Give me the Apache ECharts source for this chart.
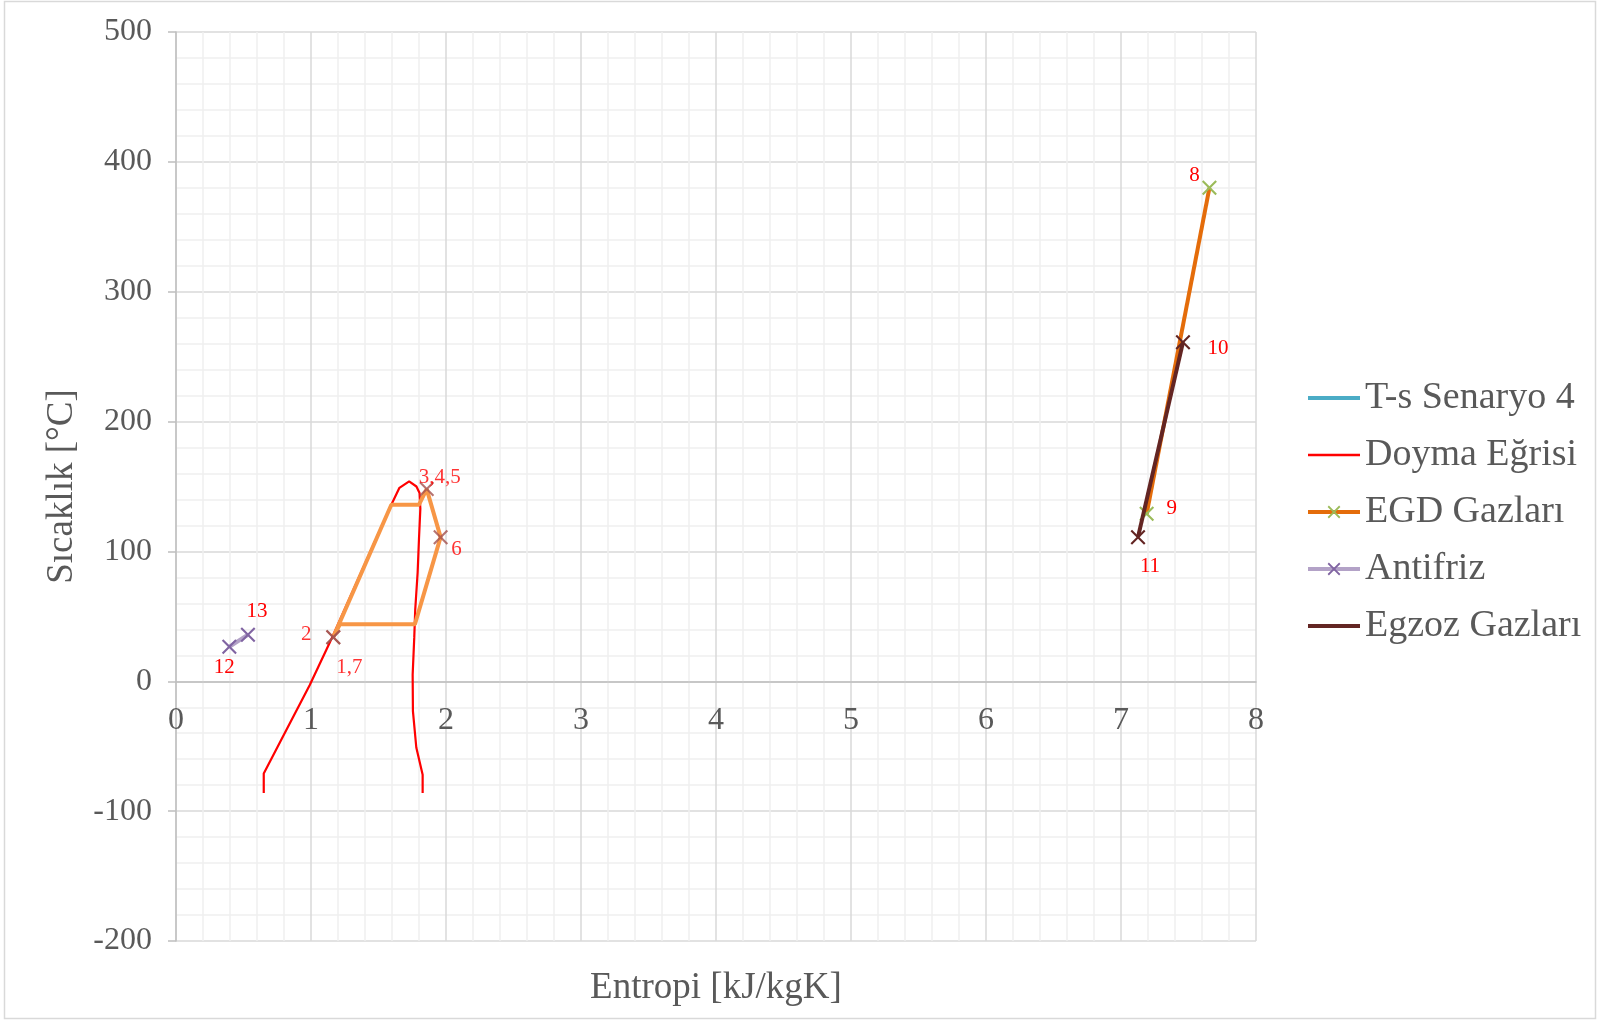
<!DOCTYPE html>
<html>
<head>
<meta charset="utf-8">
<style>
  html, body { margin: 0; padding: 0; background: #ffffff; }
  #chart { width: 1598px; height: 1021px; }
</style>
<script src="https://cdn.jsdelivr.net/npm/echarts@6/dist/echarts.min.js"></script>
</head>
<body>
<div id="chart"></div>
<script>
// ---------- DATA ----------
const xTicks = [0, 1, 2, 3, 4, 5, 6, 7, 8];
const yTicks = [-200, -100, 0, 100, 200, 300, 400, 500];

// T-s Senaryo 4 (cycle path)
const cycleS = [1.165, 1.595, 1.80, 1.857, 1.96, 1.77, 1.215, 1.165];
const cycleT = [34, 136, 136, 148, 111, 44, 44, 34];

// State points of the cycle
const stateS = [1.165, 1.165, 1.857, 1.96];
const stateT = [34, 34, 148, 111];
const stateLabels = ['2', '1,7', '3,4,5', '6'];

// Doyma Eğrisi (saturation curve)
const satS = [0.65, 0.65, 0.80, 0.99, 1.14, 1.595, 1.655, 1.727, 1.781, 1.804, 1.81, 1.80, 1.79, 1.772, 1.765, 1.753, 1.755, 1.78, 1.827, 1.827];
const satT = [-86, -71, -41, -3, 30, 136, 149, 154, 150, 145, 133, 110, 84, 55, 34, 5, -23, -51, -72, -86];

// EGD Gazları
const egdS = [7.655, 7.19];
const egdT = [380, 129];
const egdLabels = ['8', '9'];

// Antifriz
const antS = [0.395, 0.533];
const antT = [26.6, 35.8];
const antLabels = ['12', '13'];

// Egzoz Gazları
const exhS = [7.459, 7.126];
const exhT = [261, 111];
const exhLabels = ['10', '11'];

// ---------- STYLE / LAYOUT ----------
const FONT = '"Liberation Serif", "Times New Roman", serif';
const TXT = '#595959';
const CROSS = 'path://M0,1 L1,0 L5,4 L9,0 L10,1 L6,5 L10,9 L9,10 L5,6 L1,10 L0,9 L4,5 Z';
const CLEAR = 'rgba(0,0,0,0)';

const GRID = { left: 176, right: 342, top: 32, bottom: 80 };
const CH = 1021;
const yMin = yTicks[0], yMax = yTicks[yTicks.length - 1];
const gridH = CH - GRID.top - GRID.bottom;
// x-axis crosses the y-axis at T = 0
const zeroShift = gridH * (0 - yMin) / (yMax - yMin);

// label offsets (px) keyed by label text
const labelOffset = {
  '2': [-27, -3], '1,7': [16, 30], '3,4,5': [13, -12], '6': [16, 12],
  '12': [-5, 21], '13': [9, -23], '8': [-15, -12], '9': [25, -5],
  '10': [35, 6], '11': [12, 29]
};

function zipPts(xs, ys, labels) {
  return xs.map((x, i) => {
    const item = { value: [x, ys[i]] };
    if (labels) {
      item.name = labels[i];
      item.label = {
        show: true, position: 'inside', formatter: labels[i],
        offset: labelOffset[labels[i]], color: '#FF0000',
        fontFamily: FONT, fontSize: 21
      };
    }
    return item;
  });
}

const chart = echarts.init(document.getElementById('chart'), null, { renderer: 'canvas' });

const option = {
  animation: false,
  backgroundColor: '#ffffff',
  textStyle: { fontFamily: FONT },
  graphic: [{
    type: 'rect', silent: true, z: -10,
    shape: { x: 4.5, y: 1.5, width: 1591, height: 1017 },
    style: { fill: 'none', stroke: '#D9D9D9', lineWidth: 1.5 }
  }],
  grid: { left: GRID.left, right: GRID.right, top: GRID.top, bottom: GRID.bottom, containLabel: false, outerBoundsMode: 'none' },
  legend: {
    orient: 'vertical',
    left: 1306, top: 378, padding: 0,
    itemWidth: 52, itemHeight: 16, itemGap: 17,
    textStyle: { fontFamily: FONT, fontSize: 38, color: TXT, lineHeight: 40, padding: [0, 0, 0, 0] },
    data: [
      { name: 'T-s Senaryo 4', itemStyle: { color: CLEAR, borderColor: CLEAR }, lineStyle: { color: '#4BACC6', width: 4 } },
      { name: 'Doyma Eğrisi', itemStyle: { color: CLEAR, borderColor: CLEAR }, lineStyle: { color: '#FF0000', width: 2.5 } },
      { name: 'EGD Gazları', lineStyle: { color: '#E46C0A', width: 4 } },
      { name: 'Antifriz', lineStyle: { color: '#B3A2C7', width: 4 } },
      { name: 'Egzoz Gazları', itemStyle: { color: CLEAR, borderColor: CLEAR }, lineStyle: { color: '#632523', width: 4 } }
    ]
  },
  xAxis: {
    type: 'value', min: xTicks[0], max: xTicks[xTicks.length - 1], interval: 1,
    position: 'bottom', offset: -zeroShift,
    name: 'Entropi [kJ/kgK]', nameLocation: 'middle', nameGap: 288,
    nameTextStyle: { fontFamily: FONT, fontSize: 37, color: TXT },
    axisLine: { show: true, onZero: false, lineStyle: { color: '#BFBFBF', width: 1.5 } },
    axisTick: { show: false },
    axisLabel: { fontFamily: FONT, fontSize: 32, color: TXT, margin: 23 },
    splitLine: { show: true, lineStyle: { color: '#D9D9D9', width: 1.5 } },
    minorTick: { show: false, splitNumber: 5 },
    minorSplitLine: { show: true, lineStyle: { color: '#F0F0F0', width: 1.5 } }
  },
  yAxis: {
    type: 'value', min: yMin, max: yMax, interval: 100,
    name: 'Sıcaklık [°C]', nameLocation: 'middle', nameGap: 95, nameRotate: 90,
    nameTextStyle: { fontFamily: FONT, fontSize: 37, color: TXT },
    axisLine: { show: true, onZero: false, lineStyle: { color: '#BFBFBF', width: 1.5 } },
    axisTick: { show: true, inside: false, length: 8, lineStyle: { color: '#BFBFBF', width: 1.5 } },
    axisLabel: { fontFamily: FONT, fontSize: 32, color: TXT, margin: 24 },
    splitLine: { show: true, lineStyle: { color: '#D9D9D9', width: 1.5 } },
    minorTick: { show: false, splitNumber: 5 },
    minorSplitLine: { show: true, lineStyle: { color: '#F0F0F0', width: 1.5 } }
  },
  series: [
    {
      name: 'Doyma Eğrisi', type: 'line', z: 2,
      data: zipPts(satS, satT),
      symbol: 'none', smooth: false,
      lineStyle: { color: '#FF0000', width: 2.2 },
      itemStyle: { color: '#FF0000' }
    },
    {
      name: 'T-s Senaryo 4', type: 'line', z: 3,
      data: zipPts(cycleS, cycleT),
      symbol: 'none',
      lineStyle: { color: '#F79646', width: 4 },
      itemStyle: { color: '#F79646' }
    },
    {
      name: 'Durum Noktaları', type: 'scatter', z: 6,
      data: zipPts(stateS, stateT, stateLabels),
      symbol: CROSS, symbolSize: 15,
      itemStyle: { color: '#A5514E' }
    },
    {
      name: 'EGD Gazları', type: 'line', z: 4,
      data: zipPts(egdS, egdT, egdLabels),
      symbol: CROSS, symbolSize: 15, showSymbol: true,
      lineStyle: { color: '#E46C0A', width: 4 },
      itemStyle: { color: '#9BBB59' }
    },
    {
      name: 'Antifriz', type: 'line', z: 4,
      data: zipPts(antS, antT, antLabels),
      symbol: CROSS, symbolSize: 15, showSymbol: true,
      lineStyle: { color: '#B3A2C7', width: 4 },
      itemStyle: { color: '#8064A2' }
    },
    {
      name: 'Egzoz Gazları', type: 'line', z: 5,
      data: zipPts(exhS, exhT, exhLabels),
      symbol: CROSS, symbolSize: 15, showSymbol: true,
      lineStyle: { color: '#632523', width: 4 },
      itemStyle: { color: '#632523' }
    }
  ]
};

chart.setOption(option);
</script>
</body>
</html>
